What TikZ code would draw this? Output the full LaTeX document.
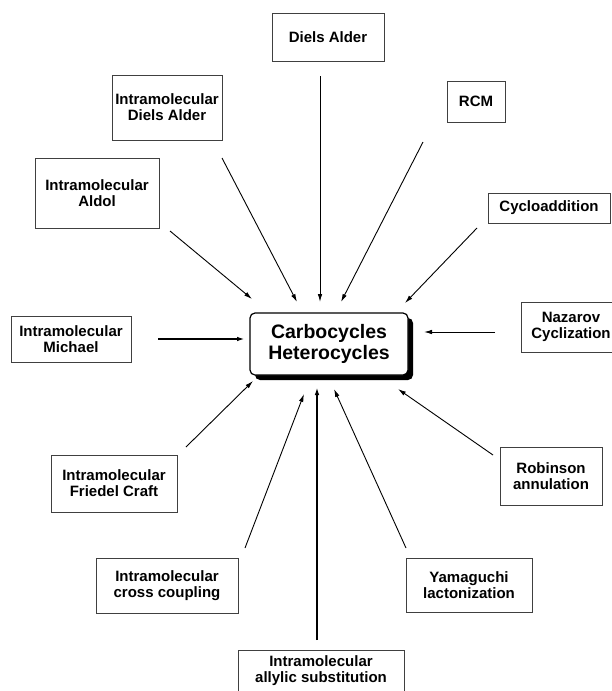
\documentclass[tikz,border=0pt]{standalone}
\usepackage{fontspec}
\setmainfont{Liberation Sans}
\usetikzlibrary{arrows.meta, shadows}

\begin{document}
\begin{tikzpicture}[x=1pt, y=-1pt, >={Latex[length=8pt,width=4.5pt]},
    box/.style={rectangle, draw=black!75, line width=1pt, inner sep=0pt, align=center,
      font=\fontsize{15}{16}\selectfont\bfseries},
    hub/.style={rectangle, rounded corners=5pt, draw, line width=1.2pt, fill=white, align=center,
      inner sep=0pt, minimum width=158pt, minimum height=62pt,
      font=\fontsize{19.5}{21}\selectfont\bfseries,
      drop shadow={shadow xshift=5pt, shadow yshift=-5pt, fill=black, opacity=1}},
    arr/.style={->, line width=0.9pt},
    thickarr/.style={->, line width=2pt}]
    \useasboundingbox (0,0) rectangle (612,691);

    % Nodes
    \node [hub] (core) at (329,344) {Carbocycles\\Heterocycles};
    \node [box, minimum width=112pt, minimum height=48pt] (DA) at (328,37) {Diels Alder};
    \node [box, minimum width=110pt, minimum height=65pt] (IDA) at (167,107.5) {Intramolecular\\Diels Alder};
    \node [box, minimum width=58pt, minimum height=41pt] (RCM) at (476,101.5) {RCM};
    \node [box, minimum width=124pt, minimum height=70pt] (Aldol) at (97,193) {Intramolecular\\Aldol};
    \node [box, minimum width=122pt, minimum height=30pt] (Cyclo) at (549,208) {Cycloaddition};
    \node [box, minimum width=120pt, minimum height=46pt] (Michael) at (71,339) {Intramolecular\\Michael};
    \node [box, minimum width=100pt, minimum height=50pt] (Nazarov) at (571,327) {Nazarov\\Cyclization};
    \node [box, minimum width=126pt, minimum height=57pt] (Friedel) at (114,483.5) {Intramolecular\\ Friedel Craft};
    \node [box, minimum width=102pt, minimum height=58pt] (Robinson) at (551,476) {Robinson\\annulation};
    \node [box, minimum width=142pt, minimum height=55pt] (Cross) at (167,585.5) {Intramolecular\\cross coupling};
    \node [box, minimum width=126pt, minimum height=54pt] (Yama) at (469,585) {Yamaguchi\\lactonization};
    \node [box, minimum width=166pt, minimum height=42pt] (Allyl) at (321,671) {Intramolecular\\allylic substitution};

    % Arrow ends
    \coordinate (DA-a) at (320,76);      \coordinate (DA-b) at (320,302);
    \coordinate (IDA-a) at (222,158);    \coordinate (IDA-b) at (297,302);
    \coordinate (RCM-a) at (423,142);    \coordinate (RCM-b) at (341,302);
    \coordinate (Aldol-a) at (170,231);  \coordinate (Aldol-b) at (252,299);
    \coordinate (Cyclo-a) at (477,228);  \coordinate (Cyclo-b) at (405,303);
    \coordinate (Michael-a) at (158,339); \coordinate (Michael-b) at (245,339);
    \coordinate (Nazarov-a) at (495,332); \coordinate (Nazarov-b) at (424,332);
    \coordinate (Friedel-a) at (186,447); \coordinate (Friedel-b) at (253,381);
    \coordinate (Cross-a) at (245,548);  \coordinate (Cross-b) at (304,394);
    \coordinate (Allyl-a) at (317,640);  \coordinate (Allyl-b) at (317,387);
    \coordinate (Yama-a) at (406,548);   \coordinate (Yama-b) at (334,389);
    \coordinate (Robinson-a) at (493,455); \coordinate (Robinson-b) at (398,389);

    % Arrows
    \draw [arr] (DA-a) -- (DA-b);
    \draw [arr] (IDA-a) -- (IDA-b);
    \draw [arr] (RCM-a) -- (RCM-b);
    \draw [arr] (Aldol-a) -- (Aldol-b);
    \draw [arr] (Cyclo-a) -- (Cyclo-b);
    \draw [thickarr] (Michael-a) -- (Michael-b);
    \draw [arr] (Nazarov-a) -- (Nazarov-b);
    \draw [arr] (Friedel-a) -- (Friedel-b);
    \draw [arr] (Cross-a) -- (Cross-b);
    \draw [thickarr] (Allyl-a) -- (Allyl-b);
    \draw [arr] (Yama-a) -- (Yama-b);
    \draw [arr] (Robinson-a) -- (Robinson-b);

\end{tikzpicture}
\end{document}
